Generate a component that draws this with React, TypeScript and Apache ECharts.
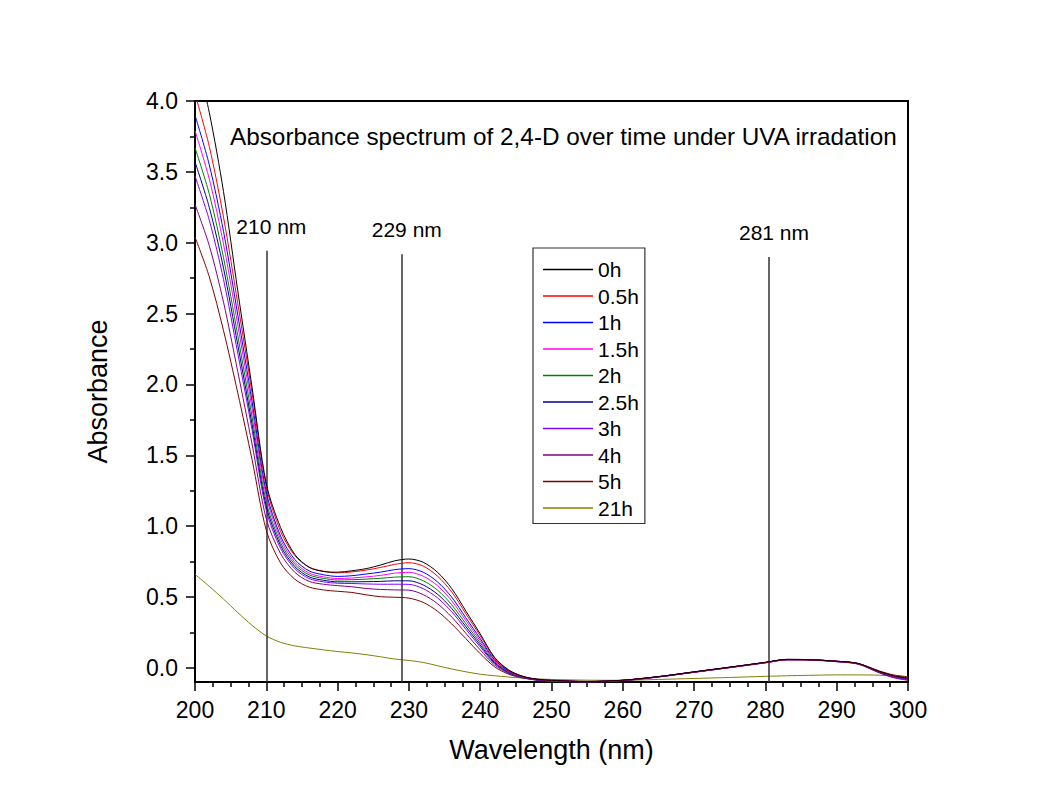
import React, { useEffect, useRef } from "react";
import * as echarts from "echarts";

const wavelengths = [200, 202, 204, 206, 208, 210, 212, 214, 216, 218, 220, 222, 224, 226, 228, 230, 232, 234, 236, 238, 240, 242, 244, 246, 248, 250, 255, 260, 265, 270, 275, 280, 283, 286, 290, 293, 296, 298, 300];

const abs0h = [4.35, 3.92, 3.36, 2.66, 1.98, 1.3, 0.99, 0.8, 0.71, 0.68, 0.675, 0.685, 0.7, 0.725, 0.755, 0.768, 0.745, 0.675, 0.56, 0.4, 0.24, 0.075, -0.015, -0.06, -0.08, -0.088, -0.096, -0.087, -0.062, -0.028, 0.005, 0.039, 0.06, 0.058, 0.047, 0.031, -0.026, -0.056, -0.073];
const abs05h = [4.05, 3.68, 3.18, 2.57, 1.94, 1.28, 0.963, 0.792, 0.71, 0.682, 0.67, 0.677, 0.69, 0.708, 0.73, 0.742, 0.718, 0.648, 0.536, 0.381, 0.226, 0.068, -0.018, -0.061, -0.081, -0.088, -0.097, -0.088, -0.063, -0.03, 0.003, 0.037, 0.058, 0.057, 0.046, 0.03, -0.028, -0.058, -0.074];
const abs1h = [3.9, 3.55, 3.08, 2.49, 1.88, 1.24, 0.93, 0.764, 0.684, 0.657, 0.645, 0.65, 0.662, 0.675, 0.693, 0.7, 0.675, 0.607, 0.499, 0.352, 0.206, 0.058, -0.022, -0.063, -0.082, -0.089, -0.097, -0.088, -0.063, -0.03, 0.004, 0.038, 0.059, 0.058, 0.046, 0.03, -0.029, -0.06, -0.077];
const abs15h = [3.79, 3.45, 2.99, 2.42, 1.83, 1.21, 0.908, 0.746, 0.668, 0.642, 0.63, 0.634, 0.642, 0.652, 0.668, 0.674, 0.647, 0.58, 0.473, 0.332, 0.191, 0.052, -0.025, -0.064, -0.082, -0.09, -0.098, -0.088, -0.062, -0.029, 0.004, 0.038, 0.059, 0.058, 0.046, 0.03, -0.029, -0.06, -0.078];
const abs2h = [3.67, 3.345, 2.895, 2.345, 1.77, 1.17, 0.884, 0.73, 0.656, 0.631, 0.62, 0.622, 0.626, 0.632, 0.64, 0.643, 0.615, 0.549, 0.445, 0.31, 0.176, 0.044, -0.029, -0.065, -0.083, -0.09, -0.098, -0.089, -0.063, -0.03, 0.003, 0.037, 0.058, 0.057, 0.045, 0.029, -0.03, -0.061, -0.079];
const abs25h = [3.57, 3.25, 2.82, 2.28, 1.72, 1.14, 0.863, 0.714, 0.642, 0.618, 0.607, 0.607, 0.608, 0.61, 0.614, 0.614, 0.585, 0.52, 0.419, 0.29, 0.161, 0.037, -0.032, -0.067, -0.084, -0.091, -0.098, -0.089, -0.063, -0.03, 0.003, 0.037, 0.058, 0.057, 0.045, 0.029, -0.031, -0.062, -0.08];
const abs3h = [3.47, 3.16, 2.74, 2.22, 1.68, 1.11, 0.843, 0.7, 0.63, 0.607, 0.597, 0.595, 0.592, 0.59, 0.59, 0.589, 0.559, 0.494, 0.396, 0.272, 0.148, 0.031, -0.035, -0.068, -0.086, -0.094, -0.1, -0.09, -0.064, -0.031, 0.002, 0.036, 0.057, 0.056, 0.044, 0.027, -0.034, -0.067, -0.085];
const abs4h = [3.27, 2.98, 2.58, 2.09, 1.58, 1.05, 0.806, 0.674, 0.61, 0.59, 0.58, 0.572, 0.56, 0.553, 0.55, 0.548, 0.517, 0.453, 0.359, 0.243, 0.127, 0.021, -0.039, -0.07, -0.088, -0.096, -0.101, -0.091, -0.065, -0.032, 0.001, 0.035, 0.056, 0.055, 0.043, 0.026, -0.036, -0.07, -0.088];
const abs5h = [3.04, 2.76, 2.38, 1.94, 1.47, 0.97, 0.74, 0.625, 0.57, 0.55, 0.54, 0.532, 0.515, 0.502, 0.498, 0.492, 0.462, 0.4, 0.31, 0.205, 0.1, 0.008, -0.045, -0.072, -0.086, -0.092, -0.097, -0.088, -0.062, -0.029, 0.004, 0.038, 0.058, 0.057, 0.046, 0.031, -0.022, -0.05, -0.063];
const abs21h = [0.66, 0.575, 0.485, 0.39, 0.3, 0.225, 0.18, 0.155, 0.14, 0.127, 0.115, 0.105, 0.093, 0.078, 0.062, 0.052, 0.038, 0.015, -0.008, -0.028, -0.045, -0.056, -0.065, -0.072, -0.078, -0.082, -0.087, -0.088, -0.082, -0.075, -0.068, -0.06, -0.056, -0.053, -0.05, -0.05, -0.052, -0.058, -0.065];

const seriesNames = ["0h", "0.5h", "1h", "1.5h", "2h", "2.5h", "3h", "4h", "5h", "21h"];
const seriesValues = [abs0h, abs05h, abs1h, abs15h, abs2h, abs25h, abs3h, abs4h, abs5h, abs21h];
const seriesColors = ["#000000", "#ff0000", "#0000ff", "#ff00ff", "#008000", "#000080", "#8000ff", "#800080", "#800000", "#808000"];

const yMajorTicks = [0, 0.5, 1.0, 1.5, 2.0, 2.5, 3.0, 3.5, 4.0];
const yMinorTicks = [0.25, 0.75, 1.25, 1.75, 2.25, 2.75, 3.25, 3.75];

const markerWavelengths = [210, 229, 280.5];
const markerLabels = ["210 nm", "229 nm", "281 nm"];
const markerTops = [2.944, 2.918, 2.9];

const titleText = "Absorbance spectrum of 2,4-D over time under UVA irradation";

const FONT = "'Liberation Sans', Arial, Helvetica, sans-serif";

export default function App() {
  const ref = useRef<HTMLDivElement>(null);

  useEffect(() => {
    document.body.style.margin = "0";
    document.body.style.background = "#ffffff";
    if (!ref.current) return;
    const chart = echarts.init(ref.current, null, { renderer: "svg" });

    const series: any[] = seriesNames.map((name, i) => ({
      name,
      type: "line",
      data: wavelengths.map((w, j) => [w, seriesValues[i][j]]),
      symbol: "none",
      smooth: 0.3,
      clip: true,
      lineStyle: { color: seriesColors[i], width: 1 },
      itemStyle: { color: seriesColors[i] },
      emphasis: { disabled: true },
      z: 3 + (seriesNames.length - i),
    }));

    series.push({
      name: "markers",
      type: "line",
      data: [],
      symbol: "none",
      markLine: {
        silent: true,
        symbol: ["none", "none"],
        animation: false,
        lineStyle: { color: "#333333", width: 1.5, type: "solid" },
        label: {
          show: true,
          position: "end",
          formatter: "{b}",
          distance: 14,
          offset: [5, 0],
          color: "#000",
          fontSize: 21,
          fontFamily: FONT,
        },
        emphasis: { disabled: true },
        data: markerWavelengths.map((w, i) => [
          { name: markerLabels[i], coord: [w, -0.1] },
          { coord: [w, markerTops[i]] },
        ]),
      },
    });

    chart.setOption({
      animation: false,
      backgroundColor: "#ffffff",
      title: {
        text: titleText,
        left: 230,
        top: 124,
        padding: 0,
        textStyle: { fontSize: 24.3, fontWeight: "normal", color: "#000", fontFamily: FONT },
      },
      legend: {
        orient: "vertical",
        left: 533,
        top: 248,
        data: seriesNames.map((n) => ({ name: n, icon: "rect" })),
        itemWidth: 50,
        itemHeight: 1.5,
        itemGap: 5.5,
        padding: [11, 6, 5, 10],
        borderColor: "#333",
        borderWidth: 1.2,
        selectedMode: false,
        textStyle: { fontSize: 21, lineHeight: 20, color: "#000", fontFamily: FONT },
      },
      grid: {
        left: 195,
        right: 130,
        top: 101,
        bottom: 130,
        show: true,
        borderColor: "#000",
        borderWidth: 2,
        backgroundColor: "transparent",
      },
      xAxis: {
        type: "value",
        min: 200,
        max: 300,
        interval: 10,
        name: "Wavelength (nm)",
        nameLocation: "middle",
        nameGap: 54,
        nameTextStyle: { fontSize: 27, color: "#000", fontFamily: FONT },
        axisLine: { show: true, onZero: false, lineStyle: { color: "#000", width: 2 } },
        axisTick: { show: true, length: 9, lineStyle: { color: "#000", width: 1.5 } },
        minorTick: { show: true, splitNumber: 4, length: 5, lineStyle: { color: "#000", width: 1.5 } },
        axisLabel: { fontSize: 23, color: "#000", fontFamily: FONT, margin: 16 },
        splitLine: { show: false },
      },
      yAxis: [
        {
          type: "value",
          min: -0.1,
          max: 4.0,
          position: "left",
          name: "Absorbance",
          nameLocation: "middle",
          nameGap: 84,
          nameTextStyle: { fontSize: 27, color: "#000", fontFamily: FONT },
          axisLine: { show: true, onZero: false, lineStyle: { color: "#000", width: 2 } },
          axisTick: { show: true, length: 9, customValues: yMajorTicks, lineStyle: { color: "#000", width: 1.5 } },
          axisLabel: {
            fontSize: 23,
            color: "#000",
            fontFamily: FONT,
            margin: 17,
            customValues: yMajorTicks,
            formatter: (v: number) => v.toFixed(1),
          },
          splitLine: { show: false },
        },
        {
          type: "value",
          min: -0.1,
          max: 4.0,
          position: "left",
          axisLine: { show: false, onZero: false },
          axisTick: { show: true, length: 5, customValues: yMinorTicks, lineStyle: { color: "#000", width: 1.5 } },
          axisLabel: { show: false },
          splitLine: { show: false },
        },
      ],
      series,
    });

    return () => chart.dispose();
  }, []);

  return <div ref={ref} style={{ width: 1038, height: 812 }} />;
}
